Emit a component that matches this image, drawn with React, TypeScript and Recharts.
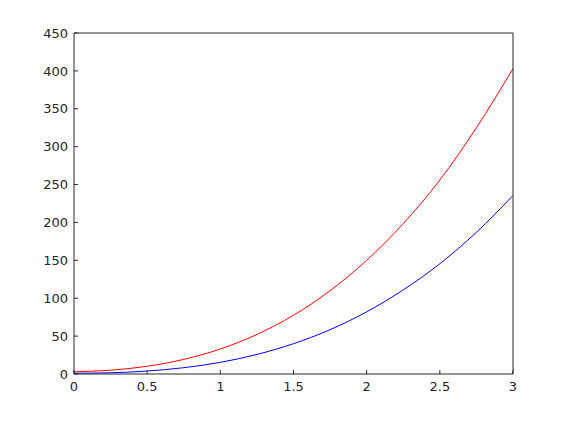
import React from "react";
import { LineChart, Line, XAxis, YAxis } from "recharts";

const xValues = [0, 0.25, 0.5, 0.75, 1, 1.25, 1.5, 1.75, 2, 2.25, 2.5, 2.75, 3];
const redValues = [3, 5, 10.2, 19.3, 33, 52.2, 77.5, 110, 150, 198.5, 256, 325, 403];
const blueValues = [1, 1.6, 3.9, 8.3, 15.4, 25.8, 40, 58.5, 82, 111, 145.5, 187, 235.5];
const xTicks = [0, 0.5, 1, 1.5, 2, 2.5, 3];
const yTicks = [0, 50, 100, 150, 200, 250, 300, 350, 400, 450];

const data = xValues.map((x, i) => ({ x, red: redValues[i], blue: blueValues[i] }));

const axisColor = "#262626";
const tickStyle = { fill: axisColor, fontSize: 13, fontFamily: "DejaVu Sans" };

export default function App() {
  return (
    <div style={{ position: "absolute", left: 0, top: 0, width: 568, height: 421, background: "#fff" }}>
      <LineChart width={568} height={421} data={data} margin={{ top: 32, right: 54, bottom: 17, left: 0 }}>
        <XAxis
          xAxisId="bottom"
          dataKey="x"
          type="number"
          domain={[0, 3]}
          ticks={xTicks}
          height={30}
          tickSize={-4}
          tickMargin={12}
          stroke={axisColor}
          tick={tickStyle}
          allowDataOverflow
        />
        <XAxis
          xAxisId="top"
          orientation="top"
          dataKey="x"
          type="number"
          domain={[0, 3]}
          ticks={xTicks}
          height={1}
          tickSize={-4}
          stroke={axisColor}
          tick={false}
          allowDataOverflow
        />
        <YAxis
          yAxisId="left"
          type="number"
          domain={[0, 450]}
          ticks={yTicks}
          width={74}
          tickSize={-4}
          tickMargin={10}
          stroke={axisColor}
          tick={tickStyle}
          allowDataOverflow
        />
        <YAxis
          yAxisId="right"
          orientation="right"
          type="number"
          domain={[0, 450]}
          ticks={yTicks}
          width={1}
          tickSize={-4}
          stroke={axisColor}
          tick={false}
          allowDataOverflow
        />
        <Line
          xAxisId="bottom"
          yAxisId="left"
          dataKey="red"
          type="monotone"
          stroke="#ff0000"
          strokeWidth={1}
          dot={false}
          isAnimationActive={false}
        />
        <Line
          xAxisId="bottom"
          yAxisId="left"
          dataKey="blue"
          type="monotone"
          stroke="#0000ff"
          strokeWidth={1}
          dot={false}
          isAnimationActive={false}
        />
      </LineChart>
    </div>
  );
}
